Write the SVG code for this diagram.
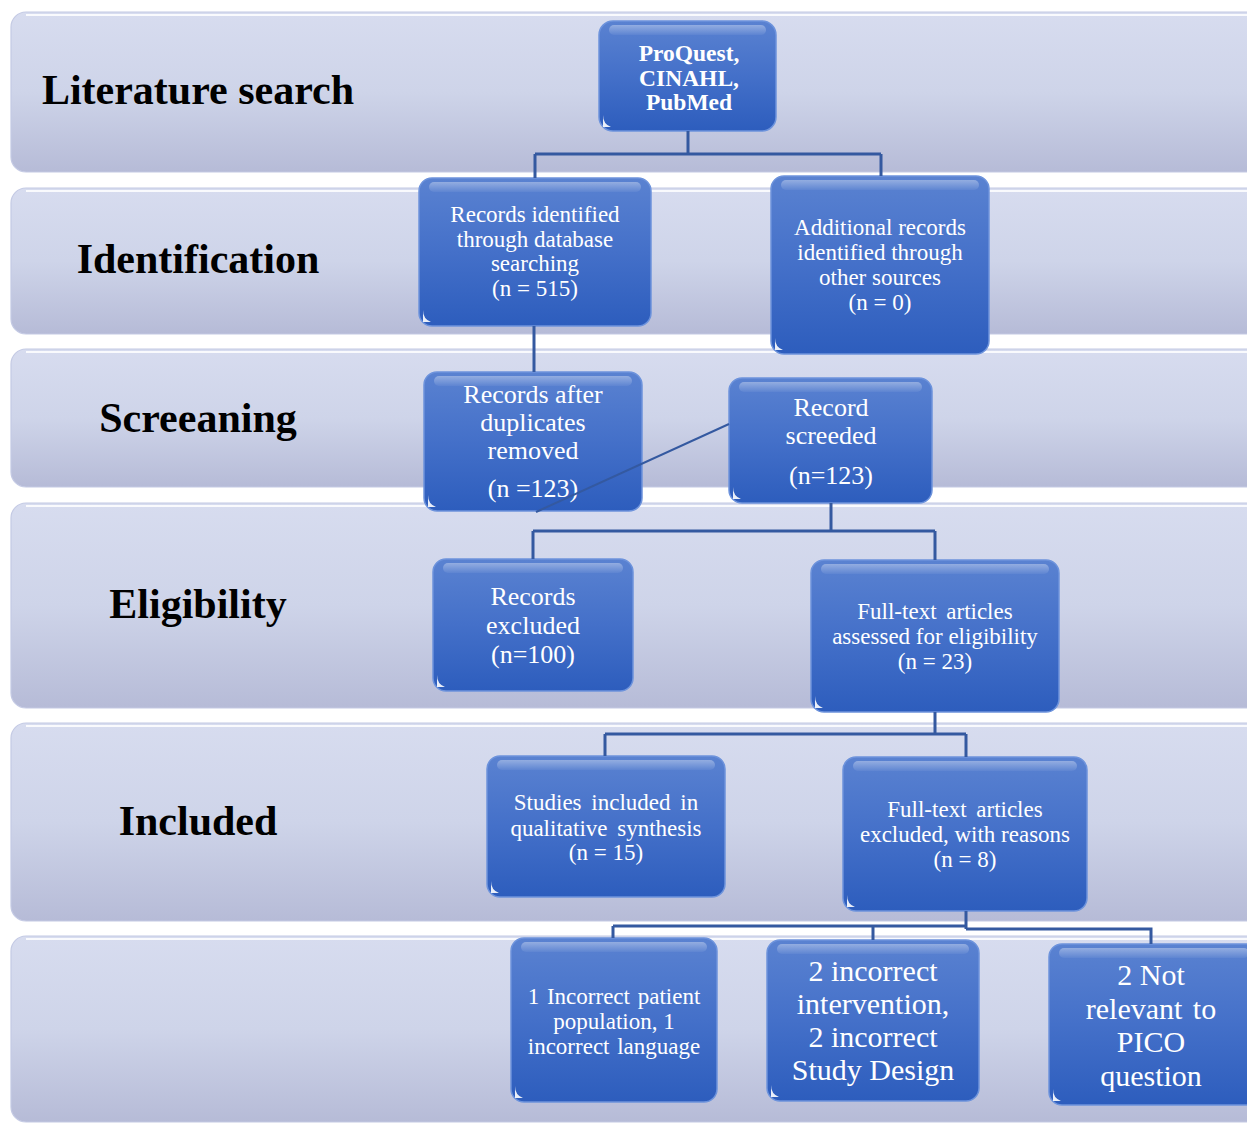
<svg xmlns="http://www.w3.org/2000/svg" width="1247" height="1124" viewBox="0 0 1247 1124">
<defs>
<linearGradient id="bandg" x1="0" y1="0" x2="0" y2="1">
<stop offset="0" stop-color="#d7dcef"/>
<stop offset="0.5" stop-color="#ced4e9"/>
<stop offset="1" stop-color="#b6bbd7"/>
</linearGradient>
<linearGradient id="boxg" x1="0" y1="0" x2="0" y2="1">
<stop offset="0" stop-color="#5a82d1"/>
<stop offset="0.5" stop-color="#4470c9"/>
<stop offset="1" stop-color="#2d5dbd"/>
</linearGradient>
<linearGradient id="gloss" x1="0" y1="0" x2="0" y2="1">
<stop offset="0" stop-color="#ffffff" stop-opacity="0.35"/>
<stop offset="1" stop-color="#ffffff" stop-opacity="0.05"/>
</linearGradient>
</defs>
<style>
.band{fill:url(#bandg);stroke:#c4cae4;stroke-width:1.2}
.bhl{stroke:#ffffff;stroke-opacity:0.85;stroke-width:2;fill:none}
.lab{font-family:"Liberation Serif","Times New Roman",serif;font-weight:bold;font-size:42px;fill:#000;text-anchor:middle}
.box{fill:url(#boxg);stroke:#6d93dc;stroke-width:1.5}
.gl{fill:url(#gloss)}
.spot{fill:#ffffff;opacity:0.9}
.t{font-family:"Liberation Serif","Times New Roman",serif;fill:#ffffff;text-anchor:middle}
.s23{font-size:23px}
.s26{font-size:26px}
.s30{font-size:30px}
.b{font-weight:bold;font-size:23.5px}
.con{fill:none;stroke:#3459a0;stroke-width:3}
.diag{fill:none;stroke:#3459a0;stroke-width:2}
</style>

<g id="bands">
<g id="band-literature">
<rect class="band" x="11" y="12" width="1260" height="160" rx="15"/>
<path class="bhl" d="M26 15 H1247"/>
<text class="lab" x="198" y="104">Literature search</text>
</g>
<g id="band-identification">
<rect class="band" x="11" y="188" width="1260" height="146" rx="15"/>
<path class="bhl" d="M26 191 H1247"/>
<text class="lab" x="198" y="273">Identification</text>
</g>
<g id="band-screening">
<rect class="band" x="11" y="349" width="1260" height="138" rx="15"/>
<path class="bhl" d="M26 352 H1247"/>
<text class="lab" x="198" y="432">Screeaning</text>
</g>
<g id="band-eligibility">
<rect class="band" x="11" y="503" width="1260" height="205" rx="15"/>
<path class="bhl" d="M26 506 H1247"/>
<text class="lab" x="198" y="618">Eligibility</text>
</g>
<g id="band-included">
<rect class="band" x="11" y="723" width="1260" height="198" rx="15"/>
<path class="bhl" d="M26 726 H1247"/>
<text class="lab" x="198" y="835">Included</text>
</g>
<g id="band-reasons">
<rect class="band" x="11" y="936" width="1260" height="186" rx="15"/>
<path class="bhl" d="M26 939 H1247"/>
</g>
</g>

<g id="nodes">
<g id="n-proquest">
<rect class="box" x="599" y="21" width="177" height="110" rx="14"/>
<rect class="gl" x="609" y="25" width="157" height="10" rx="5"/>
<path class="spot" d="M603 115 q0 9 8 12 h-8 z"/>
<text class="t b" x="689" y="61">ProQuest,</text>
<text class="t b" x="689" y="86">CINAHL,</text>
<text class="t b" x="689" y="110">PubMed</text>
</g>
<g id="n-db">
<rect class="box" x="419" y="178" width="232" height="148" rx="13"/>
<rect class="gl" x="429" y="182" width="212" height="10" rx="5"/>
<path class="spot" d="M423 310 q0 9 8 12 h-8 z"/>
<text class="t s23" x="535" y="222">Records identified</text>
<text class="t s23" x="535" y="247">through database</text>
<text class="t s23" x="535" y="271">searching</text>
<text class="t s23" x="535" y="296">(n = 515)</text>
</g>
<g id="n-other">
<rect class="box" x="771" y="176" width="218" height="178" rx="13"/>
<rect class="gl" x="781" y="180" width="198" height="10" rx="5"/>
<path class="spot" d="M775 338 q0 9 8 12 h-8 z"/>
<text class="t s23" x="880" y="235">Additional records</text>
<text class="t s23" x="880" y="260">identified through</text>
<text class="t s23" x="880" y="285">other sources</text>
<text class="t s23" x="880" y="310">(n = 0)</text>
</g>
<g id="n-dup">
<rect class="box" x="424" y="372" width="218" height="139" rx="13"/>
<rect class="gl" x="434" y="376" width="198" height="10" rx="5"/>
<path class="spot" d="M428 495 q0 9 8 12 h-8 z"/>
<text class="t s26" x="533" y="403">Records after</text>
<text class="t s26" x="533" y="431">duplicates</text>
<text class="t s26" x="533" y="459">removed</text>
<text class="t s26" x="533" y="497">(n =123)</text>
</g>
<g id="n-screened">
<rect class="box" x="729" y="378" width="203" height="125" rx="13"/>
<rect class="gl" x="739" y="382" width="183" height="10" rx="5"/>
<path class="spot" d="M733 487 q0 9 8 12 h-8 z"/>
<text class="t s26" x="831" y="416">Record</text>
<text class="t s26" x="831" y="444">screeded</text>
<text class="t s26" x="831" y="484">(n=123)</text>
</g>
<g id="n-excluded">
<rect class="box" x="433" y="559" width="200" height="132" rx="13"/>
<rect class="gl" x="443" y="563" width="180" height="10" rx="5"/>
<path class="spot" d="M437 675 q0 9 8 12 h-8 z"/>
<text class="t s26" x="533" y="605">Records</text>
<text class="t s26" x="533" y="634">excluded</text>
<text class="t s26" x="533" y="663">(n=100)</text>
</g>
<g id="n-assessed">
<rect class="box" x="811" y="560" width="248" height="152" rx="13"/>
<rect class="gl" x="821" y="564" width="228" height="10" rx="5"/>
<path class="spot" d="M815 696 q0 9 8 12 h-8 z"/>
<text class="t s23" x="935" y="619" word-spacing="4">Full-text articles</text>
<text class="t s23" x="935" y="644">assessed for eligibility</text>
<text class="t s23" x="935" y="669">(n = 23)</text>
</g>
<g id="n-included">
<rect class="box" x="487" y="756" width="238" height="141" rx="13"/>
<rect class="gl" x="497" y="760" width="218" height="10" rx="5"/>
<path class="spot" d="M491 881 q0 9 8 12 h-8 z"/>
<text class="t s23" x="606" y="810" word-spacing="4">Studies included in</text>
<text class="t s23" x="606" y="836" word-spacing="4">qualitative synthesis</text>
<text class="t s23" x="606" y="860">(n = 15)</text>
</g>
<g id="n-ftexcluded">
<rect class="box" x="843" y="757" width="244" height="154" rx="13"/>
<rect class="gl" x="853" y="761" width="224" height="10" rx="5"/>
<path class="spot" d="M847 895 q0 9 8 12 h-8 z"/>
<text class="t s23" x="965" y="817" word-spacing="4">Full-text articles</text>
<text class="t s23" x="965" y="842">excluded, with reasons</text>
<text class="t s23" x="965" y="867">(n = 8)</text>
</g>
<g id="n-r1">
<rect class="box" x="511" y="938" width="206" height="164" rx="13"/>
<rect class="gl" x="521" y="942" width="186" height="10" rx="5"/>
<path class="spot" d="M515 1086 q0 9 8 12 h-8 z"/>
<text class="t s23" x="614" y="1004" word-spacing="2">1 Incorrect patient</text>
<text class="t s23" x="614" y="1029">population, 1</text>
<text class="t s23" x="614" y="1054" word-spacing="2">incorrect language</text>
</g>
<g id="n-r2">
<rect class="box" x="767" y="940" width="212" height="161" rx="13"/>
<rect class="gl" x="777" y="944" width="192" height="10" rx="5"/>
<path class="spot" d="M771 1085 q0 9 8 12 h-8 z"/>
<text class="t s30" x="873" y="981">2 incorrect</text>
<text class="t s30" x="873" y="1014">intervention,</text>
<text class="t s30" x="873" y="1047">2 incorrect</text>
<text class="t s30" x="873" y="1080">Study Design</text>
</g>
<g id="n-r3">
<rect class="box" x="1049" y="944" width="210" height="161" rx="13"/>
<rect class="gl" x="1059" y="948" width="190" height="10" rx="5"/>
<path class="spot" d="M1053 1089 q0 9 8 12 h-8 z"/>
<text class="t s30" x="1151" y="985">2 Not</text>
<text class="t s30" x="1151" y="1019" word-spacing="3">relevant to</text>
<text class="t s30" x="1151" y="1052">PICO</text>
<text class="t s30" x="1151" y="1086">question</text>
</g>
</g>

<g id="connectors">
<path class="con" d="M688 131 V154 M535 154 H881 M535 154 V178 M881 154 V176"/>
<path class="con" d="M534 326 V372"/>
<path class="diag" d="M729 424 L536 512"/>
<path class="con" d="M831 503 V531 M533 531 H935 M533 531 V559 M935 531 V560"/>
<path class="con" d="M935 712 V734 M605 734 H966 M605 734 V756 M966 734 V757"/>
<path class="con" d="M966 911 V929 M613 926 H966 M613 926 V938 M873 926 V940 M966 929 H1151 V944"/>
</g>
</svg>
